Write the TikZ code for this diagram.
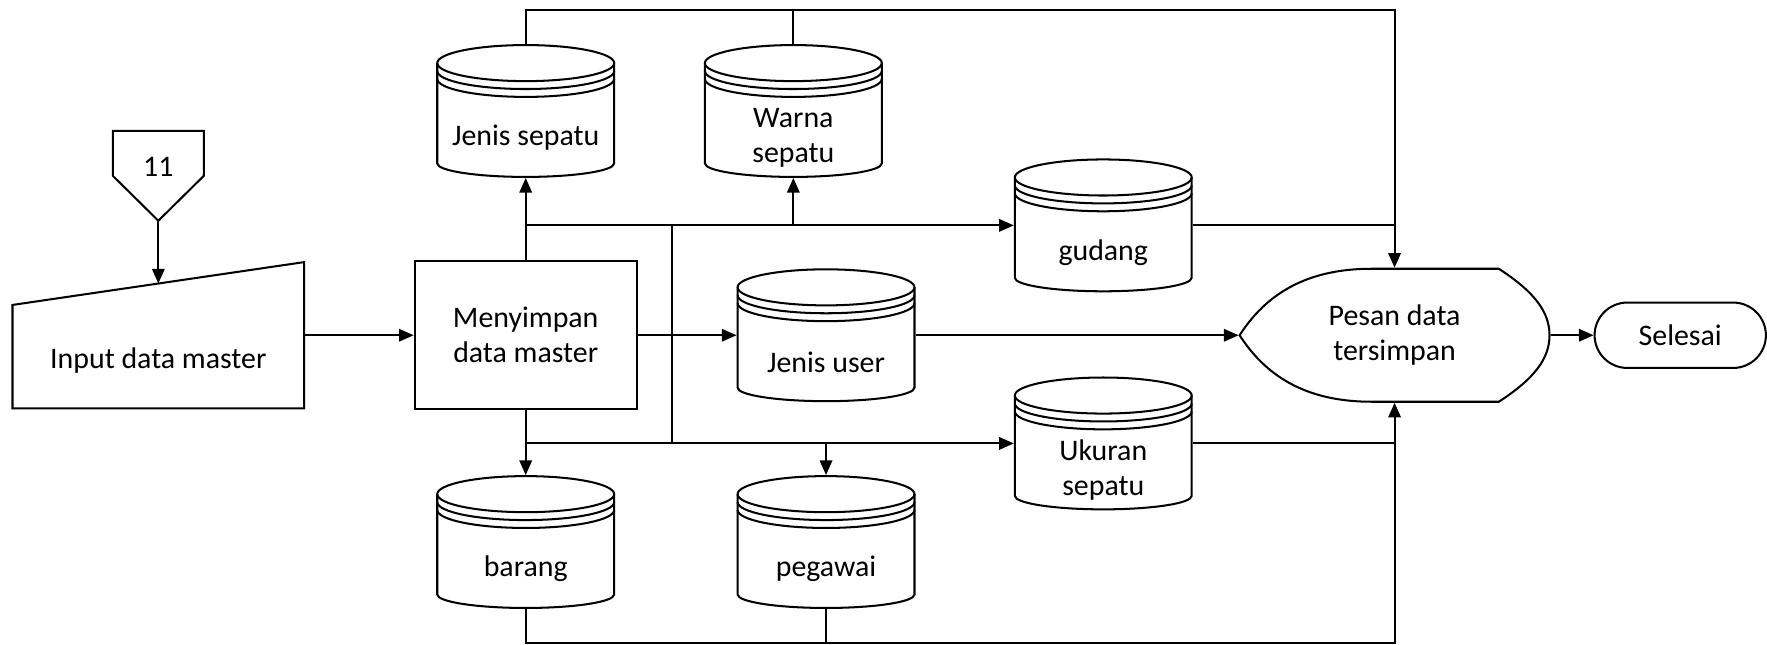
\documentclass[tikz,border=0pt]{standalone}
\usepackage{fontspec}
\setmainfont{Carlito}
\usetikzlibrary{arrows.meta,calc}
\newcommand\dbshape[1]{%
  \begin{scope}[shift={(#1.center)}]
    \draw (-78.5,42.5) -- (-78.5,-46.5) arc[start angle=180,end angle=360,x radius=78.5,y radius=12] -- (78.5,42.5);
    \draw (0,42.5) ellipse[x radius=78.5,y radius=16];
    \draw (-78.5,35.5) arc[start angle=180,end angle=360,x radius=78.5,y radius=16];
    \draw (-78.5,28.5) arc[start angle=180,end angle=360,x radius=78.5,y radius=16];
  \end{scope}}
\begin{document}
\begin{tikzpicture}[x=1pt,y=1pt,line width=1.8pt,font=\fontsize{26.5}{31}\selectfont,
  arr/.style={-{Triangle[length=13pt,width=11pt]}},
  dbnode/.style={minimum width=157pt,minimum height=117pt,inner sep=0pt},
  lbl/.style={yshift=-24pt,align=center},
  procbox/.style={draw,minimum width=197pt,minimum height=131pt,align=center,inner sep=0pt},
  termbox/.style={draw,rounded corners=29pt,minimum width=152pt,minimum height=58pt,inner sep=0pt}]
\useasboundingbox (0,0) rectangle (1568,572);

% nodes
\node[minimum width=79pt,minimum height=78pt,inner sep=0pt,label={[yshift=8pt]center:11}] (off) at (140.5,416) {};
\node[minimum width=257pt,minimum height=128pt,inner sep=0pt,label={[yshift=-22pt]center:Input data master}] (inp) at (140.5,274.5) {};
\node[procbox] (ms) at (466.5,274.5) {Menyimpan\\data master};
\node[dbnode,label={[lbl]center:Jenis sepatu}] (js) at (466.5,473.5) {};
\node[dbnode,label={[lbl]center:{Warna\\sepatu}}] (ws) at (704,473.5) {};
\node[dbnode,label={[lbl]center:gudang}] (gd) at (979,372) {};
\node[dbnode,label={[lbl]center:Jenis user}] (ju) at (733,274.5) {};
\node[dbnode,label={[lbl]center:{Ukuran\\sepatu}}] (us) at (979,178.5) {};
\node[dbnode,label={[lbl]center:barang}] (br) at (466.5,91) {};
\node[dbnode,label={[lbl]center:pegawai}] (pg) at (733,91) {};
\node[minimum width=275pt,minimum height=118pt,inner sep=0pt,align=center,yshift=-2pt] (ps) at (1237.5,276.5) {Pesan data\\tersimpan};
\node[termbox] (sl) at (1491,274.5) {Selesai};
\coordinate (jx) at ([xshift=30pt]ms.east);

% shapes
\draw (off.north west) -- (off.north east) -- (off.east) -- (off.south) -- (off.west) -- cycle;
\draw (inp.south west) -- ([yshift=-38pt]inp.north west) -- (inp.north east) -- (inp.south east) -- cycle;
\dbshape{js}\dbshape{ws}\dbshape{gd}\dbshape{ju}\dbshape{us}\dbshape{br}\dbshape{pg}
\begin{scope}[shift={(ps.center)}]
  \draw (-137.5,0) .. controls (-115,35) and (-80,59) .. (-20.5,59) -- (92.5,59)
        .. controls (125,38) and (137.5,20) .. (137.5,0)
        .. controls (137.5,-20) and (125,-38) .. (92.5,-59) -- (-20.5,-59)
        .. controls (-80,-59) and (-115,-35) .. (-137.5,0) -- cycle;
\end{scope}

% connectors
\draw[arr] (off.south) -- ([yshift=-19pt]inp.north);
\draw[arr] (inp.east) -- (ms.west);
\draw[arr] (ms.north) -- (js.south);
\draw[arr] (ms.north |- gd.west) -- (gd.west);
\draw[arr] (ws.south |- gd.west) -- (ws.south);
\draw (jx |- gd.west) -- (jx |- us.west);
\draw[arr] (ms.east) -- (ju.west);
\draw[arr] (ju.east) -- (ps.west);
\draw (gd.east) -- (ps.north |- gd.east);
\draw[arr] (ms.south) -- (br.north);
\draw[arr] (ms.south |- us.west) -- (us.west);
\draw[arr] (pg.north |- us.west) -- (pg.north);
\draw (us.east) -- (ps.south |- us.east);
\draw[arr] (js.north) -- ++(0,30) -| (ps.north);
\draw (ws.north) -- ++(0,30);
\draw[arr] (br.south) -- ++(0,-30) -| (ps.south);
\draw (pg.south) -- ++(0,-30);
\draw[arr] (ps.east) -- (sl.west);
\end{tikzpicture}
\end{document}
